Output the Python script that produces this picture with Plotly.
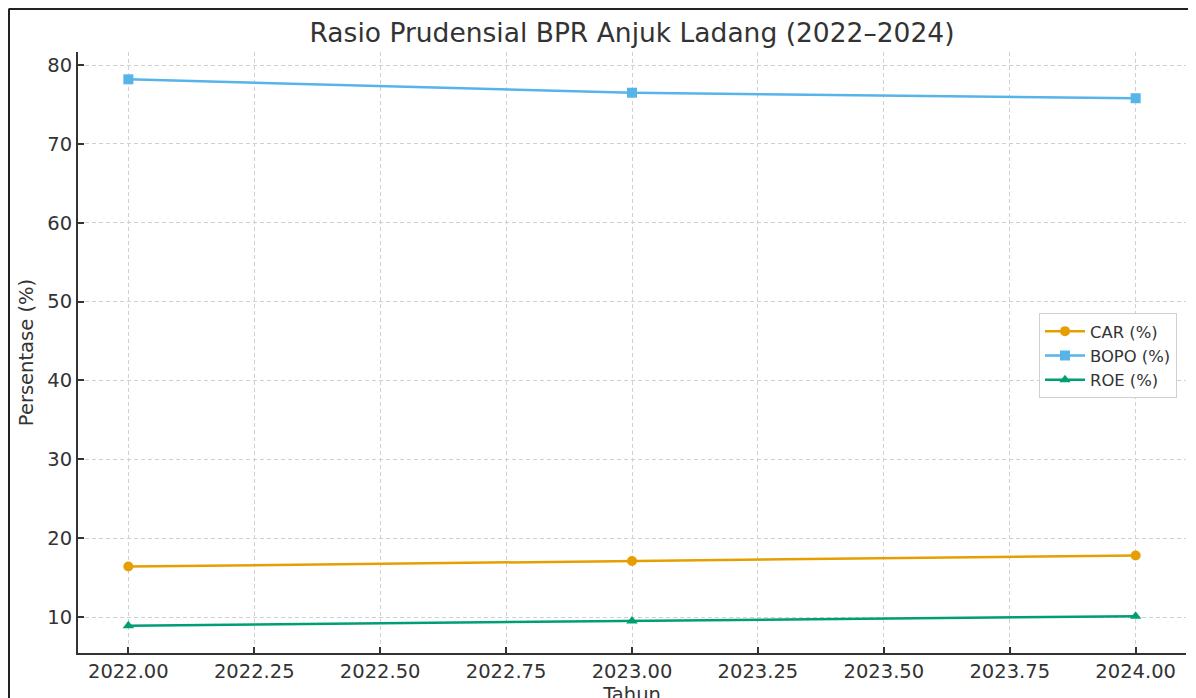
import plotly.graph_objects as go

years = [2022, 2023, 2024]
car = [16.4, 17.1, 17.8]
bopo = [78.2, 76.5, 75.8]
roe = [8.9, 9.5, 10.1]
series_names = ["CAR (%)", "BOPO (%)", "ROE (%)"]
x_ticks = [2022.00, 2022.25, 2022.50, 2022.75, 2023.00, 2023.25, 2023.50, 2023.75, 2024.00]
y_ticks = [10, 20, 30, 40, 50, 60, 70, 80]

colors = ["#E69F00", "#56B4E9", "#009E73"]
symbols = ["circle", "square", "triangle-up"]

fig = go.Figure()
for name, vals, c, s in zip(series_names, [car, bopo, roe], colors, symbols):
    fig.add_trace(go.Scatter(
        x=years, y=vals, name=name, mode="lines+markers",
        line=dict(color=c, width=2.5),
        marker=dict(color=c, symbol=s, size=10, line=dict(width=0)),
    ))

# page is rendered with an 8px body offset; layout is in figure pixels
L, R, T, B = 70, 18, 44, 53
W, H = 1196, 698
pw, ph = W - L - R, H - T - B

font = "DejaVu Sans, Verdana, sans-serif"
fig.update_layout(
    width=W, height=H,
    margin=dict(l=L, r=R, t=T, b=B, autoexpand=False),
    paper_bgcolor="white", plot_bgcolor="white",
    font=dict(family=font, color="#333333", size=19.5),
    title=dict(text="Rasio Prudensial BPR Anjuk Ladang (2022–2024)",
               x=624 / W, xanchor="center",
               y=1 - 25 / H, yanchor="middle",
               font=dict(size=26.5, color="#333333")),
    showlegend=True,
    legend=dict(x=(1169 - L) / pw, xanchor="right", y=1 - (305 - T) / ph, yanchor="top",
                bgcolor="white", bordercolor="#d0d0d0", borderwidth=1,
                font=dict(size=16.4, color="#333333"), tracegroupgap=0,
                itemwidth=40),
)
fig.update_xaxes(
    range=[2021.9, 2024.1], tickvals=x_ticks, ticktext=[f"{v:.2f}" for v in x_ticks],
    showgrid=True, gridcolor="#d0d0d0", gridwidth=1, griddash="4px,3px",
    showline=True, linecolor="#333333", linewidth=2,
    ticks="inside", ticklen=6, tickwidth=1.5, tickcolor="#333333",
    zeroline=False, tickfont=dict(size=19.5),
    title=dict(text="Tahun", standoff=8, font=dict(size=19.5)),
    automargin=False,
)
fig.update_yaxes(
    range=[5.435, 81.665], tickvals=y_ticks,
    showgrid=True, gridcolor="#d0d0d0", gridwidth=1, griddash="4px,3px",
    showline=True, linecolor="#333333", linewidth=2,
    ticks="inside", ticklen=6, tickwidth=1.5, tickcolor="#333333",
    zeroline=False, tickfont=dict(size=19.5),
    title=dict(text="Persentase (%)", standoff=8, font=dict(size=19.5)),
    automargin=False,
)

# outer frame (screenshot border) on left and top
fx = (0.75 - L) / pw
fy = 1 + (T - 0.75) / ph
fig.add_shape(type="line", xref="paper", yref="paper", x0=fx, x1=fx, y0=-0.2, y1=fy,
              line=dict(color="#222222", width=2.5))
fig.add_shape(type="line", xref="paper", yref="paper", x0=fx, x1=1.2, y0=fy, y1=fy,
              line=dict(color="#222222", width=2.5))

fig.write_html("out.html")
